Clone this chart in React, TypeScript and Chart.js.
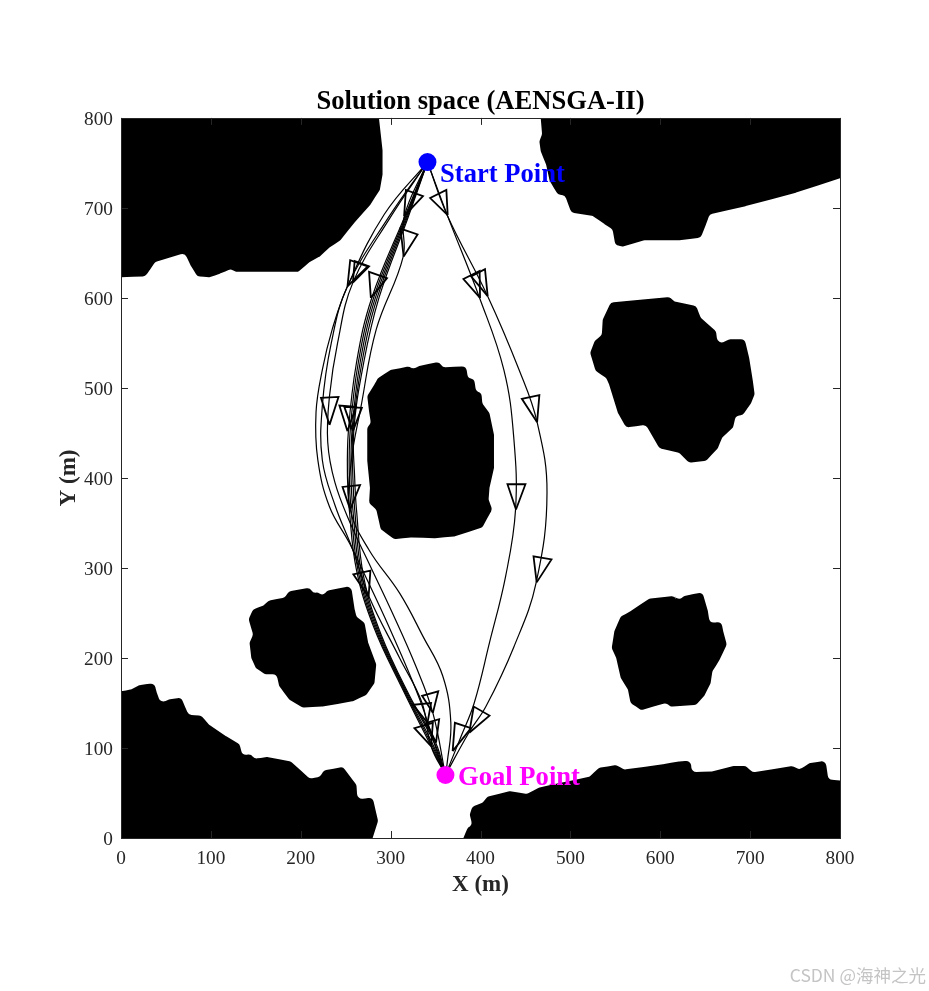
import React, { useEffect, useRef } from "react";
import { Chart, registerables } from "chart.js";

Chart.register(...registerables);

type P = [number, number];

const titleText = "Solution space (AENSGA-II)";
const xAxisLabel = "X (m)";
const yAxisLabel = "Y (m)";
const tickValues = [0, 100, 200, 300, 400, 500, 600, 700, 800];
const startPoint: P = [341, 751];
const goalPoint: P = [361, 70];
const startLabel = "Start Point";
const goalLabel = "Goal Point";
const startLabelAt: P = [355, 737];
const goalLabelAt: P = [375, 67];
const watermark = "CSDN @海神之光";

const obstacleTopLeft: P[] = [[0,800],[287,800],[291,764],[291,737],[288,720],[277,703],[260,684],[244,664],[232,656],[221,646],[210,640],[197,629],[175,629],[128,629],[122,632],[110,627],[99,623],[85,624],[77,637],[71,650],[38,640],[32,631],[27,624],[0,623]];
const obstacleTopRight: P[] = [[467,800],[468.5,782],[465.5,774],[467,763],[473,748],[477,730],[486,715],[494,714],[501,695],[525,691],[538,682],[547,676],[550,659],[558,657],[582,664],[621,664],[645,667],[651,682],[655,693],[695,702],[751,717],[800,733],[800,800]];
const obstacleRight: P[] = [[545,595],[610,601],[616,596],[640,591],[645,578],[662,563],[664,548],[677,554],[694,554],[699,533],[703,508],[705,493],[701,483],[692,470],[684,469],[681,456],[669,445],[664,433],[651,419],[632,417],[621,428],[599,433],[584,459],[562,456],[553,472],[543,504],[540,511],[528,519],[522,539],[527,552],[535,559],[536,576]];
const obstacleCenter: P[] = [[274,491],[282,504],[286,511],[300,520],[321,524],[326,519],[330,524],[354,529],[358,523],[384,524],[386,511],[393,510],[395,496],[401,495],[402,483],[410,472],[415,448],[415,411],[410,389],[409,376],[413,365],[408,356],[402,345],[371,335],[349,333],[323,334],[304,332],[289,343],[284,365],[276,372],[277,389],[274,419],[274,456],[278,461],[276,474]];
const obstacleLowerLeft: P[] = [[142,243],[147,254],[158,258],[165,264],[182,267],[187,274],[210,278],[214,272],[219,273],[224,269],[230,275],[256,280],[260,254],[262,246],[271,239],[275,217],[284,193],[282,172],[273,159],[258,152],[224,146],[202,145],[187,154],[176,169],[173,182],[160,182],[150,189],[145,200],[143,217],[147,226]];
const obstacleLowerRight: P[] = [[546,211],[549,230],[556,246],[567,252],[588,266],[616,269],[619,263],[627,269],[647,273],[653,252],[655,239],[668,240],[670,230],[674,215],[666,198],[658,185],[656,172],[649,158],[640,148],[612,146],[606,150],[579,142],[567,150],[564,165],[556,178],[551,200]];
const obstacleBottomLeft: P[] = [[0,163],[11,165],[21,170],[37,172],[40,161],[44,150],[54,154],[67,156],[75,137],[89,136],[98,126],[117,113],[132,104],[135,92],[145,93],[148,88],[163,90],[189,85],[210,66],[221,68],[226,75],[247,79],[262,59],[263,43],[280,45],[286,19],[280,0],[0,0]];
const obstacleBottomRight: P[] = [[381,0],[386,12],[391,14],[388,26],[391,35],[402,39],[408,46],[432,52],[452,49],[465,56],[488,61],[521,68],[532,78],[551,81],[560,76],[603,82],[621,85],[634,86],[635,73],[658,74],[681,80],[695,80],[703,73],[747,80],[755,76],[766,83],[784,86],[787,65],[800,64],[800,0]];
const obstacles = [obstacleBottomRight, obstacleBottomLeft, obstacleLowerRight, obstacleLowerLeft, obstacleCenter, obstacleRight, obstacleTopRight, obstacleTopLeft];

const pathRightOuter: P[] = [[341,751],[363,692],[408,602],[443,520],[463,462],[474,384],[462,284],[437,212],[406,146],[387,117],[361,70]];
const pathRightInner: P[] = [[341,751],[363,692],[399,600],[426,520],[437,445],[439,365],[428,291],[410,217],[393,150],[378,112],[361,70]];
const pathLeftA: P[] = [[341,751],[293,693],[252,613],[235,565],[224,520],[217,473],[219,420],[232,368],[254,328],[270,295],[298,235],[332,155],[352,95],[361,70]];
const pathLeftB: P[] = [[341,751],[300,690],[258,617],[241,550],[232,491],[230,440],[238,395],[255,350],[276,305],[302,250],[328,191],[347,139],[361,70]];
const pathLeftC: P[] = [[341,751],[298,690],[252,613],[234,550],[224,480],[224,420],[238,370],[258,320],[276,268],[310,200],[335,150],[345,102],[361,70]];
const pathBundle1: P[] = [[341,751],[316,691],[279,600],[262,528],[253,452],[252,400],[254,365],[262,298],[281,235],[313,166],[345,102],[361,70]];
const pathBundle2: P[] = [[341,751],[317,691],[281,600],[264,528],[255,452],[254,400],[256,365],[264,296],[283,233],[315,164],[346,103],[361,70]];
const pathBundle3: P[] = [[341,751],[318,691],[283,600],[266,528],[257,452],[256,400],[258,365],[266,294],[285,231],[317,162],[347,104],[361,70]];
const pathBundle4: P[] = [[341,751],[319,691],[285,600],[268,528],[258,452],[258,400],[260,365],[268,292],[287,229],[319,160],[349,105],[361,70]];
const pathBundle5: P[] = [[341,751],[320,691],[287,600],[270,528],[259,452],[260,400],[262,365],[270,290],[289,227],[321,158],[350,106],[361,70]];
const pathInner: P[] = [[341,751],[315,690],[314,646],[284,565],[267,479],[256,417],[255,365],[276,320],[310,272],[336,224],[358,180],[367,128],[363,84],[361,70]];
const paths = [pathRightOuter, pathRightInner, pathLeftA, pathLeftB, pathLeftC, pathBundle1, pathBundle2, pathBundle3, pathBundle4, pathBundle5, pathInner];

// each arrowhead: tip, base corner, base corner
const arrowheads: P[][] = [
  [[363.5,692],[344,711],[362,720]],
  [[399.5,600],[381,621],[399,630]],
  [[408,602],[389.5,624],[405,632]],
  [[252,613],[255,642],[274.5,635]],
  [[258,617],[260,641],[276,635]],
  [[278,600],[276,629],[296,622]],
  [[315,691],[317,720],[336,713]],
  [[314.5,646],[311,677],[330,670.5]],
  [[232,459],[222.5,489],[242,490]],
  [[252,452],[243,480.5],[261.5,479]],
  [[258,452],[248.5,479],[268,478]],
  [[463,462],[446,488],[465.5,492]],
  [[255,365],[246.5,390],[266,392]],
  [[439.5,365],[430,393],[450,393]],
  [[462.5,284],[459,313],[479,309.5]],
  [[275.5,268],[258.5,293],[277.5,297]],
  [[347,139],[335,158],[353,163]],
  [[341,128],[325,148],[345,150]],
  [[345,102],[326.5,122],[347,128]],
  [[350.5,106],[340,128],[354,132]],
  [[369,96.5],[371.5,128],[389.5,122]],
  [[387.5,117],[392.5,146],[410,136]],
];

const toPoints = (list: P[]) => list.map(([x, y]) => ({ x, y }));
const SERIF = "'Liberation Serif','Times New Roman',serif";
const AXIS = "#262626";

const customDraw = {
  id: "customDraw",
  beforeDatasetDraw(chart: any, args: any) {
    const ds = chart.data.datasets[args.index];
    if (!ds.isObstacle) return;
    const pts = args.meta.data;
    const raw = ds.data;
    const n = pts.length;
    const ctx = chart.ctx;
    ctx.save();
    ctx.beginPath();
    const mid = (a: any, b: any) => ({ x: (a.x + b.x) / 2, y: (a.y + b.y) / 2 });
    const first = mid(pts[n - 1], pts[0]);
    ctx.moveTo(first.x, first.y);
    for (let i = 0; i < n; i++) {
      const p = pts[i];
      const next = mid(p, pts[(i + 1) % n]);
      const onEdge = raw[i].x === 0 || raw[i].x === 800 || raw[i].y === 0 || raw[i].y === 800;
      if (onEdge) ctx.lineTo(p.x, p.y);
      else ctx.arcTo(p.x, p.y, next.x, next.y, 5);
      ctx.lineTo(next.x, next.y);
    }
    ctx.closePath();
    ctx.fillStyle = "#000";
    ctx.fill();
    ctx.restore();
  },
  afterDatasetsDraw(chart: any) {
    const { ctx, chartArea: a, scales } = chart;
    const { x, y } = scales;
    ctx.save();
    ctx.strokeStyle = AXIS;
    ctx.lineWidth = 1;
    ctx.beginPath();
    const tick = 7;
    tickValues.forEach((v) => {
      const px = Math.round(x.getPixelForValue(v)) + 0.5;
      const py = Math.round(y.getPixelForValue(v)) + 0.5;
      ctx.moveTo(px, a.bottom); ctx.lineTo(px, a.bottom - tick);
      ctx.moveTo(px, a.top); ctx.lineTo(px, a.top + tick);
      ctx.moveTo(a.left, py); ctx.lineTo(a.left + tick, py);
      ctx.moveTo(a.right, py); ctx.lineTo(a.right - tick, py);
    });
    ctx.stroke();
    ctx.strokeRect(Math.round(a.left) + 0.5, Math.round(a.top) + 0.5, Math.round(a.right - a.left), Math.round(a.bottom - a.top));
    ctx.textBaseline = "middle";
    ctx.textAlign = "left";
    ctx.font = `bold 26.6px ${SERIF}`;
    ctx.fillStyle = "#0000ff";
    ctx.fillText(startLabel, x.getPixelForValue(startLabelAt[0]), y.getPixelForValue(startLabelAt[1]));
    ctx.fillStyle = "#ff00ff";
    ctx.fillText(goalLabel, x.getPixelForValue(goalLabelAt[0]), y.getPixelForValue(goalLabelAt[1]));
    ctx.font = "17.5px 'Noto Sans CJK SC','Noto Sans',sans-serif";
    ctx.fillStyle = "#c4c4c4";
    ctx.textAlign = "right";
    ctx.fillText(watermark, 926, 975);
    ctx.restore();
  },
};

const fixBox = (w: number | null, h: number | null) => (s: any) => {
  if (w !== null) s.width = w;
  if (h !== null) s.height = h;
  s.paddingLeft = s.paddingRight = s.paddingTop = s.paddingBottom = 0;
};

export default function App() {
  const ref = useRef<HTMLCanvasElement>(null);
  useEffect(() => {
    const markers = [
      { data: toPoints([startPoint]), pointRadius: 9, pointBackgroundColor: "#0000ff", pointBorderWidth: 0, showLine: false },
      { data: toPoints([goalPoint]), pointRadius: 9, pointBackgroundColor: "#ff00ff", pointBorderWidth: 0, showLine: false },
    ];
    const heads = arrowheads.map((h) => ({
      data: toPoints([...h, h[0]]), showLine: true, pointRadius: 0, borderColor: "#000", borderWidth: 1.8, tension: 0, fill: false,
    }));
    const lines = paths.map((p) => ({
      data: toPoints(p), showLine: true, pointRadius: 0, borderColor: "#000", borderWidth: 1.2, tension: 0.4, fill: false,
    }));
    const blobs = obstacles.map((o) => ({
      data: toPoints(o), showLine: false, pointRadius: 0, isObstacle: true,
    }));
    const tickFont = { family: SERIF, size: 19.3 };
    const axisTitleFont = { family: SERIF, size: 23, weight: "bold" as const };
    const chart = new Chart(ref.current!, {
      type: "scatter",
      data: { datasets: [...markers, ...heads, ...lines, ...blobs] as any },
      plugins: [customDraw],
      options: {
        animation: false,
        responsive: false,
        layout: { padding: { top: 86, right: 89, bottom: 92, left: 0 } },
        plugins: {
          legend: { display: false },
          tooltip: { enabled: false },
          title: {
            display: true, text: titleText, color: "#000", fullSize: false,
            font: { family: SERIF, size: 26.6, weight: "bold" }, padding: { top: 0, bottom: 0 },
          },
        },
        scales: {
          x: {
            type: "linear", min: 0, max: 800,
            afterFit: fixBox(null, 61),
            grid: { display: false }, border: { display: false },
            ticks: { stepSize: 100, color: AXIS, font: tickFont, padding: 1, maxRotation: 0, autoSkip: false },
            title: { display: true, text: xAxisLabel, color: AXIS, font: axisTitleFont, padding: 0 },
          },
          y: {
            type: "linear", min: 0, max: 800,
            afterFit: fixBox(121, null),
            grid: { display: false }, border: { display: false },
            ticks: { stepSize: 100, color: AXIS, font: tickFont, padding: 0, labelOffset: 2, autoSkip: false },
            title: { display: true, text: yAxisLabel, color: AXIS, font: axisTitleFont, padding: { top: 55, bottom: 0 } },
          },
        },
      },
    } as any);
    return () => chart.destroy();
  }, []);
  return (
    <canvas ref={ref} width={929} height={991} style={{ position: "absolute", left: 0, top: 0, display: "block" }} />
  );
}
